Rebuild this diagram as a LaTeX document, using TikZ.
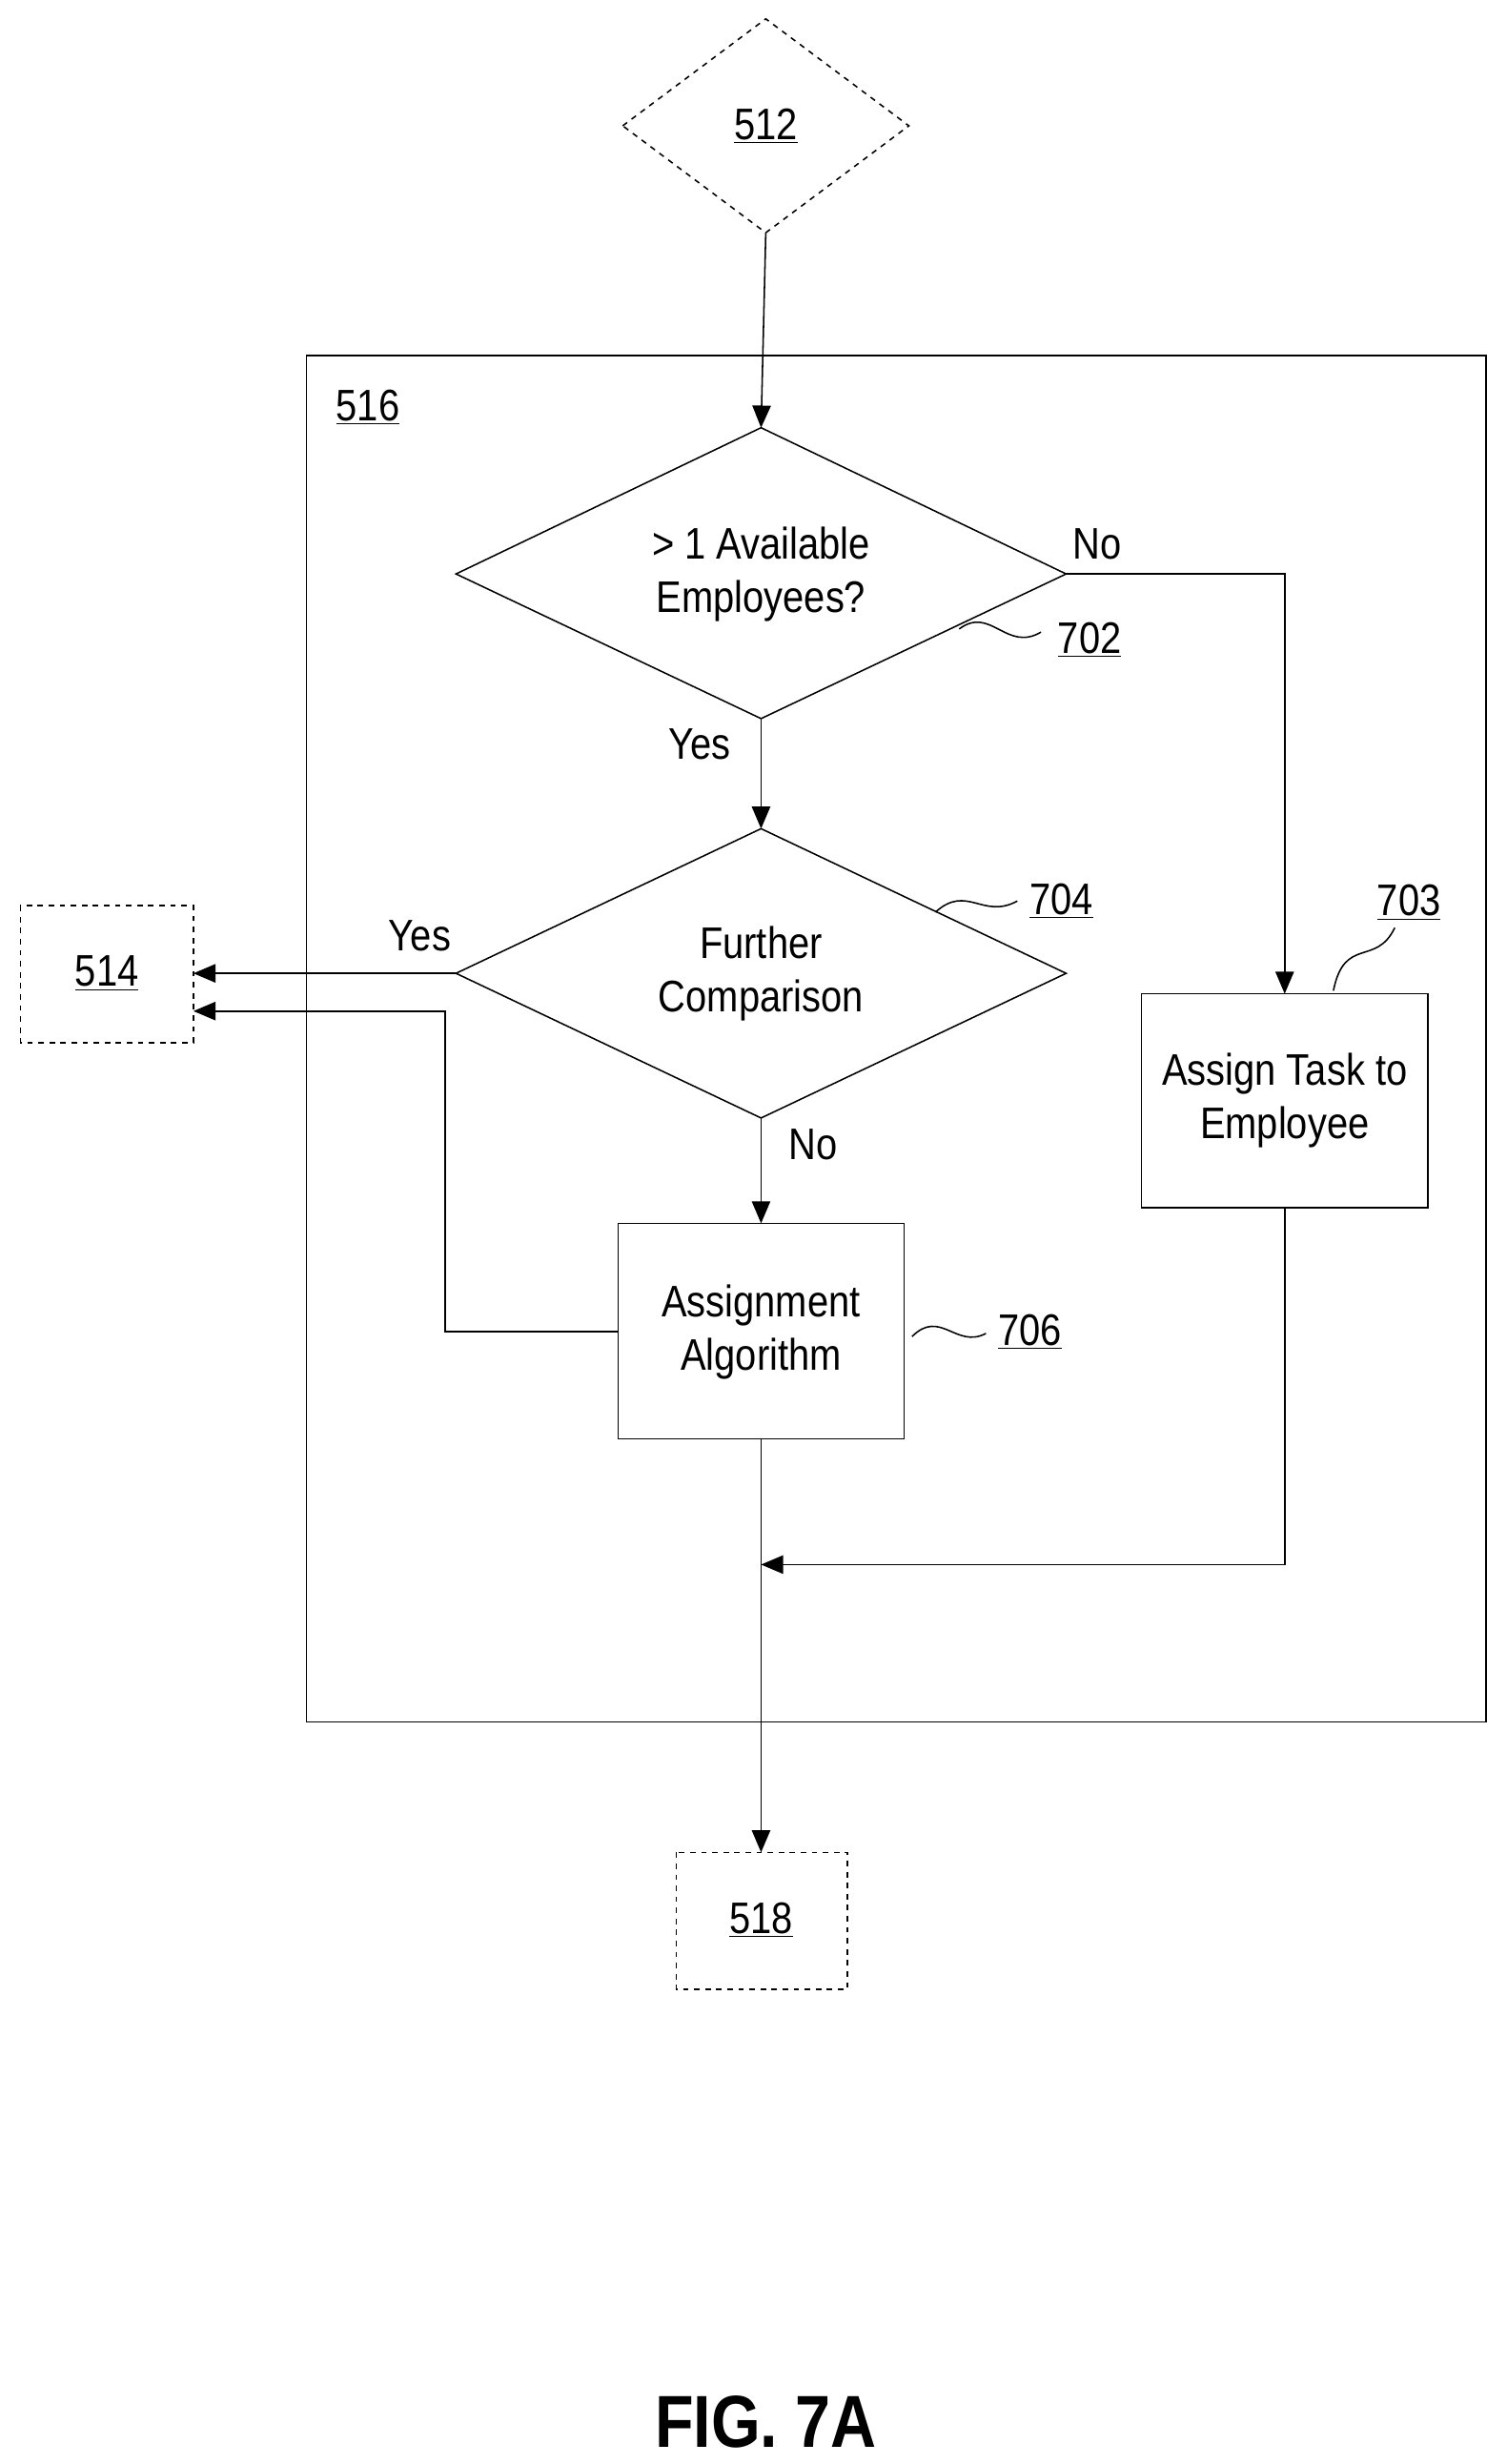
\documentclass[tikz,border=0pt]{standalone}
\usepackage{fontspec}
\setmainfont{Liberation Sans}[FakeStretch=0.86]
\usetikzlibrary{shapes.geometric,arrows.meta}
\tikzset{
	txt/.style={font=\fontsize{24}{29}\selectfont, align=center},
	dia/.style={draw, thick, diamond, aspect=2.1, inner sep=0pt},
	box/.style={draw, thick, txt, inner sep=0pt},
	ref/.style={txt},
	flow/.style={thick, -{Triangle[length=12pt,width=10pt]}},
	squig/.style={thick}
}
\begin{document}
\begin{tikzpicture}[x=0.03cm, y=-0.03cm]
	\useasboundingbox (0,0) rectangle (958,1567);

	% outer step
	\draw[thick] (195,226) rectangle (945,1095);
	\node[ref] (l516) at (234,259) {\underline{516}};

	% entry and exit blocks
	\draw[thick, dashed] (396,80) -- (487,12) -- (578,80) -- (487,148) -- cycle;
	\node[ref] (s512) at (487,80) {\underline{512}};
	\coordinate (t512) at (487,148);
	\draw[thick, dashed] (13,576) rectangle (123,663);
	\node[ref] (s514) at (68,619) {\underline{514}};
	\draw[thick, dashed] (430,1178) rectangle (539,1265);
	\node[ref] (s518) at (484,1221) {\underline{518}};

	% decisions
	\draw[thick] (290,365) -- (484,272) -- (678,365) -- (484,457) -- cycle;
	\node[txt] (d702) at (484,365) {> 1 Available\\Employees?};
	\draw[thick] (290,619) -- (484,527) -- (678,619) -- (484,711) -- cycle;
	\node[txt] (d704) at (484,619) {Further\\Comparison};

	% actions
	\draw[thick] (726,632) rectangle (908,768);
	\node[txt] (b703) at (817,700) {Assign Task to\\Employee};
	\draw[thick] (393,778) rectangle (575,915);
	\node[txt] (b706) at (484,847) {Assignment\\Algorithm};

	% connectors
	\draw[flow] (t512) -- (484,272);
	\draw[flow] (484,457) -- (484,527);
	\draw[flow] (678,365) -| (817,632);
	\draw[flow] (290,619) -- (123,619);
	\draw[flow] (393,847) -- (283,847) |- (123,643);
	\draw[flow] (484,711) -- (484,778);
	\draw[flow] (817,768) |- (484,995);
	\draw[flow] (484,915) -- (484,1178);

	% branch labels
	\node[txt] (n702) at (698,346) {No};
	\node[txt] (y702) at (445,473) {Yes};
	\node[txt] (y704) at (267,595) {Yes};
	\node[txt] (n704) at (517,728) {No};

	% reference numerals
	\node[ref] (l702) at (693,407) {\underline{702}};
	\draw[squig] (610,400) .. controls (630,385) and (640,415) .. (662,402);
	\node[ref] (l704) at (675,573) {\underline{704}};
	\draw[squig] (595,580) .. controls (615,562) and (625,585) .. (647,573);
	\node[ref] (l706) at (655,847) {\underline{706}};
	\draw[squig] (580,850) .. controls (598,832) and (608,858) .. (627,848);
	\node[ref] (l703) at (896,574) {\underline{703}};
	\draw[squig] (848,630) .. controls (855,595) and (875,615) .. (887,590);

	\node[font=\fontsize{40}{46}\selectfont\bfseries] (fig) at (487,1540) {FIG. 7A};
\end{tikzpicture}
\end{document}
